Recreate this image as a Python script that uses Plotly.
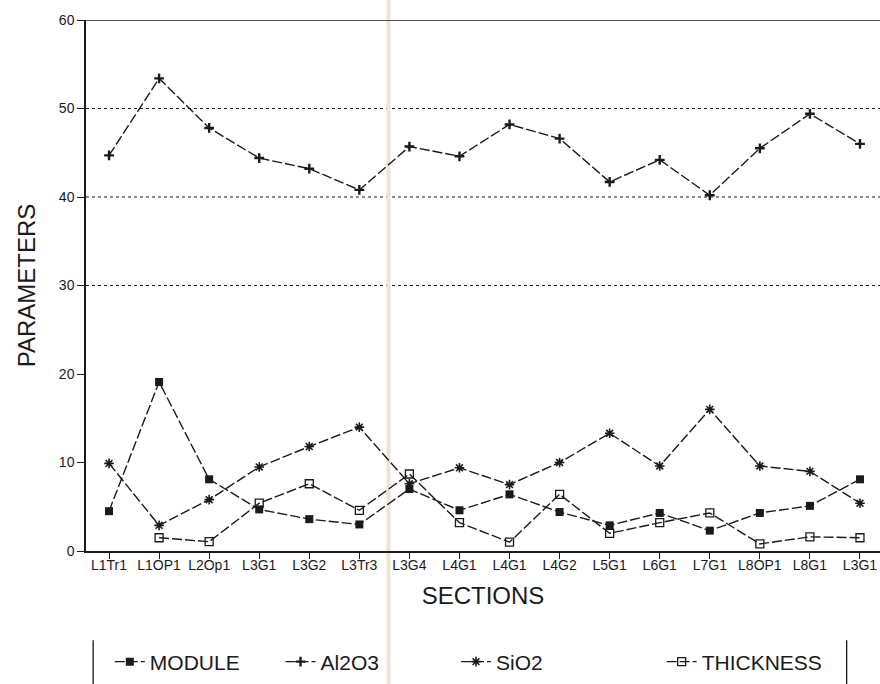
import plotly.graph_objects as go

sections = ["L1Tr1", "L1OP1", "L2Op1", "L3G1", "L3G2", "L3Tr3", "L3G4", "L4G1",
            "L4G1", "L4G2", "L5G1", "L6G1", "L7G1", "L8OP1", "L8G1", "L3G1"]
module = [4.5, 19.1, 8.1, 4.7, 3.6, 3.0, 7.0, 4.6, 6.4, 4.4, 2.9, 4.3, 2.3, 4.3, 5.1, 8.1]
al2o3 = [44.7, 53.4, 47.8, 44.4, 43.2, 40.8, 45.7, 44.6, 48.2, 46.6, 41.7, 44.2, 40.2, 45.5, 49.4, 46.0]
sio2 = [9.9, 2.9, 5.8, 9.5, 11.8, 14.0, 7.6, 9.4, 7.5, 10.0, 13.3, 9.6, 16.0, 9.6, 9.0, 5.4]
thickness = [None, 1.5, 1.05, 5.4, 7.6, 4.6, 8.7, 3.2, 1.0, 6.4, 2.0, 3.2, 4.3, 0.8, 1.6, 1.5]
y_ticks = [0, 10, 20, 30, 40, 50, 60]
grid_levels = [30, 40, 50]

xs = list(range(len(sections)))
ink = "#1a1a1a"
dash = "10px,3px"
font_family = "Liberation Sans, Arial, sans-serif"

fig = go.Figure()
fig.add_trace(go.Scatter(x=xs, y=module, name="MODULE", mode="lines+markers", legend="legend",
                         line=dict(color=ink, width=1.4, dash=dash),
                         marker=dict(symbol="square", size=8, color=ink)))
fig.add_trace(go.Scatter(x=xs, y=al2o3, name="Al2O3", mode="lines+markers", legend="legend2",
                         line=dict(color=ink, width=1.4, dash=dash),
                         marker=dict(symbol="cross-thin", size=7, color=ink,
                                     line=dict(color=ink, width=2.4))))
fig.add_trace(go.Scatter(x=xs, y=sio2, name="SiO2", mode="lines+markers", legend="legend3",
                         line=dict(color=ink, width=1.4, dash=dash),
                         marker=dict(symbol="asterisk-open", size=8, color=ink,
                                     line=dict(color=ink, width=1.6))))
fig.add_trace(go.Scatter(x=xs, y=thickness, name="THICKNESS", mode="lines+markers", legend="legend4",
                         connectgaps=False,
                         line=dict(color=ink, width=1.4, dash=dash),
                         marker=dict(symbol="square-open", size=8, color=ink,
                                     line=dict(color=ink, width=1.3))))

shapes = []
for g in grid_levels:
    shapes.append(dict(type="line", xref="paper", yref="y", x0=0, x1=1, y0=g, y1=g,
                       line=dict(color=ink, width=1.2, dash="dot"), layer="below"))
shapes.append(dict(type="line", xref="paper", yref="y", x0=0, x1=1, y0=60, y1=60,
                   line=dict(color=ink, width=1.5)))
# scan fold line
shapes.append(dict(type="line", xref="paper", yref="paper", x0=0.381, x1=0.381, y0=-0.26, y1=1.05,
                   line=dict(color="#ebe3d4", width=4), layer="below"))
# legend side bars
shapes.append(dict(type="line", xref="paper", yref="paper", x0=0.009, x1=0.009, y0=-0.168, y1=-0.26,
                   line=dict(color=ink, width=1.3)))
shapes.append(dict(type="line", xref="paper", yref="paper", x0=0.958, x1=0.958, y0=-0.168, y1=-0.26,
                   line=dict(color=ink, width=1.3)))

def leg(xf):
    return dict(orientation="h", x=xf, xanchor="left", y=-0.209, yanchor="middle",
                font=dict(size=21, family=font_family, color=ink),
                bgcolor="rgba(0,0,0,0)")

fig.update_layout(
    width=880, height=684,
    margin=dict(l=86, r=0, t=20, b=133),
    paper_bgcolor="white", plot_bgcolor="white",
    font=dict(family=font_family, color=ink),
    shapes=shapes,
    showlegend=True,
    legend=leg(0.030),
    legend2=leg(0.245),
    legend3=leg(0.466),
    legend4=leg(0.725),
    xaxis=dict(range=[-0.46, 15.4], tickmode="array", tickvals=xs, ticktext=sections,
               showgrid=False, zeroline=False, showline=True, linecolor=ink, linewidth=1.5,
               ticks="outside", ticklen=6, tickcolor=ink, tickwidth=1.2,
               tickfont=dict(size=14), tickangle=0, ticklabelstandoff=-6,
               title=dict(text="SECTIONS", font=dict(size=24), standoff=16)),
    yaxis=dict(range=[0, 60], tickmode="array", tickvals=y_ticks,
               showgrid=False, zeroline=False, showline=True, linecolor=ink, linewidth=1.5,
               ticks="outside", ticklen=7, tickcolor=ink, tickwidth=1.2,
               tickfont=dict(size=14),
               title=dict(text="PARAMETERS", font=dict(size=24), standoff=16)),
)

fig.write_html("out.html")
